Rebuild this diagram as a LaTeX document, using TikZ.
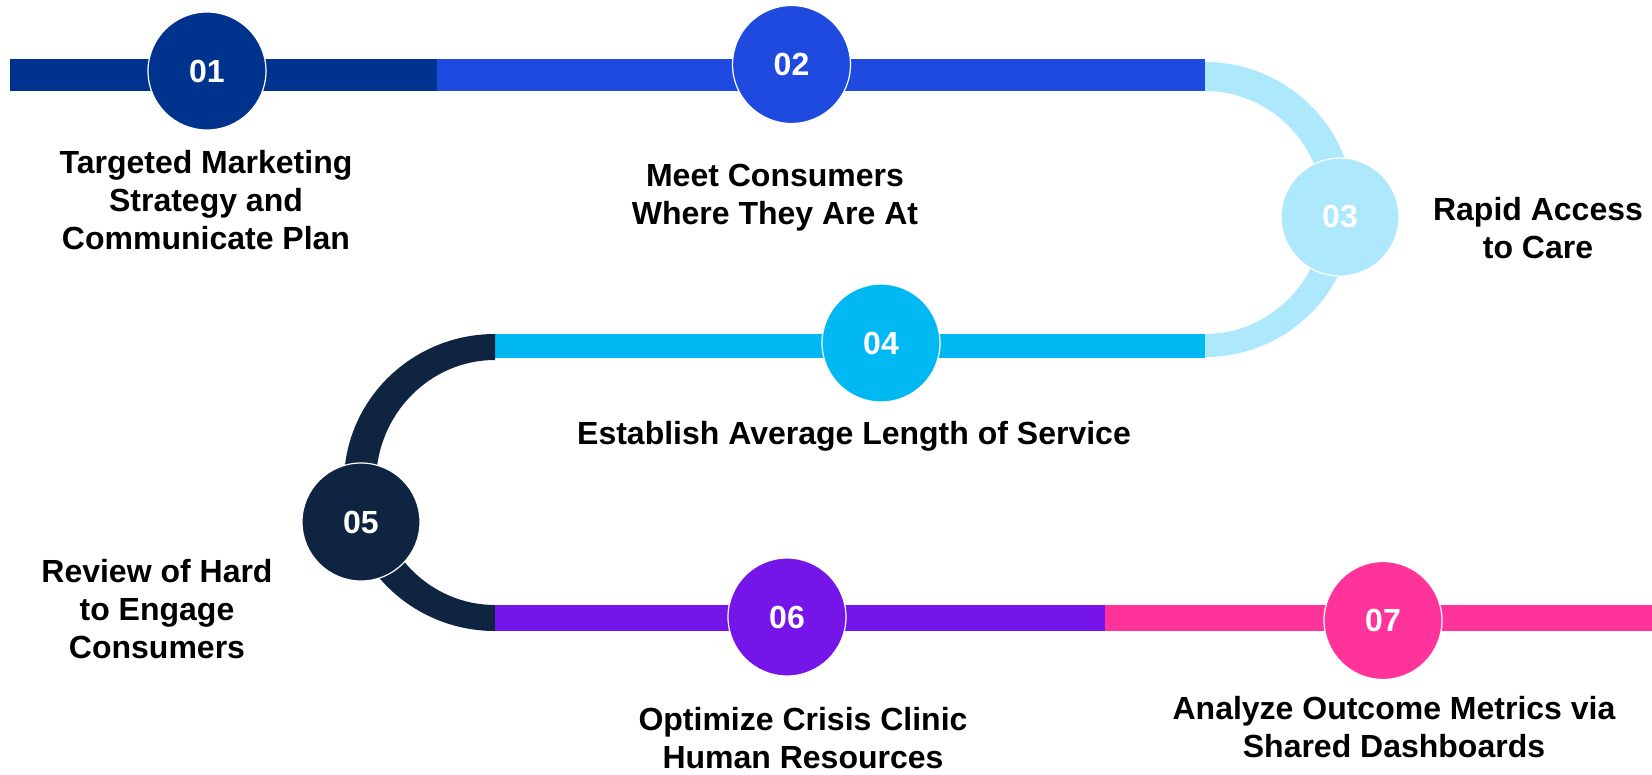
\documentclass[tikz,border=0pt]{standalone}
\usepackage{fontspec}
\setmainfont{Liberation Sans}
\definecolor{stepone}{HTML}{00338D}
\definecolor{steptwo}{HTML}{1F4AE0}
\definecolor{stepthree}{HTML}{ADE8FC}
\definecolor{stepfour}{HTML}{00B9F2}
\definecolor{stepfive}{HTML}{0F2440}
\definecolor{stepsix}{HTML}{7515E9}
\definecolor{stepseven}{HTML}{FF3399}
\tikzset{
  milestone/.style={circle, minimum size=118pt, inner sep=0pt, draw=white, line width=1.2pt,
    text=white, font=\bfseries\fontsize{32}{38}\selectfont},
  stagetext/.style={align=center, inner sep=0pt, font=\bfseries\fontsize{32}{38}\selectfont}
}
\begin{document}
\begin{tikzpicture}[x=1pt,y=-1pt]
  \useasboundingbox (0,0) rectangle (1652,774);
  % track
  \fill[stepone] (10,59) rectangle (437,91);
  \fill[steptwo] (437,59) rectangle (1205,91);
  \fill[stepthree] (1205,62) arc[start angle=-90, end angle=90, x radius=149, y radius=147.5]
    -- (1205,334) arc[start angle=90, end angle=-90, x radius=119, y radius=121.5] -- cycle;
  \fill[stepfour] (495,334) rectangle (1205,358);
  \fill[stepfive] (495,334) arc[start angle=-90, end angle=-270, x radius=151, y radius=148.5]
    -- (495,605) arc[start angle=90, end angle=270, x radius=119, y radius=122.5] -- cycle;
  \fill[stepsix] (495,605) rectangle (1105,631);
  \fill[stepseven] (1105,605) rectangle (1652,631);

  % milestones
  \node[milestone, fill=stepone] (s1) at (207,71) {01};
  \node[milestone, fill=steptwo] (s2) at (791.5,64.5) {02};
  \node[milestone, fill=stepthree] (s3) at (1340,217) {03};
  \node[milestone, fill=stepfour] (s4) at (881,343) {04};
  \node[milestone, fill=stepfive] (s5) at (361,522) {05};
  \node[milestone, fill=stepsix] (s6) at (787,617) {06};
  \node[milestone, fill=stepseven] (s7) at (1383,620.5) {07};

  % texts
  \node[stagetext] (t1) at (206,200) {Targeted Marketing\\Strategy and\\Communicate Plan};
  \node[stagetext] (t2) at (775,198) {Meet Consumers\\Where They Are At};
  \node[stagetext] (t3) at (1538,228) {Rapid Access\\to Care};
  \node[stagetext] (t4) at (854,436) {Establish Average Length of Service};
  \node[stagetext] (t5) at (157,609) {Review of Hard\\to Engage\\Consumers};
  \node[stagetext] (t6) at (803,738) {Optimize Crisis Clinic\\Human Resources};
  \node[stagetext] (t7) at (1394,727) {Analyze Outcome Metrics via\\Shared Dashboards};
\end{tikzpicture}
\end{document}
